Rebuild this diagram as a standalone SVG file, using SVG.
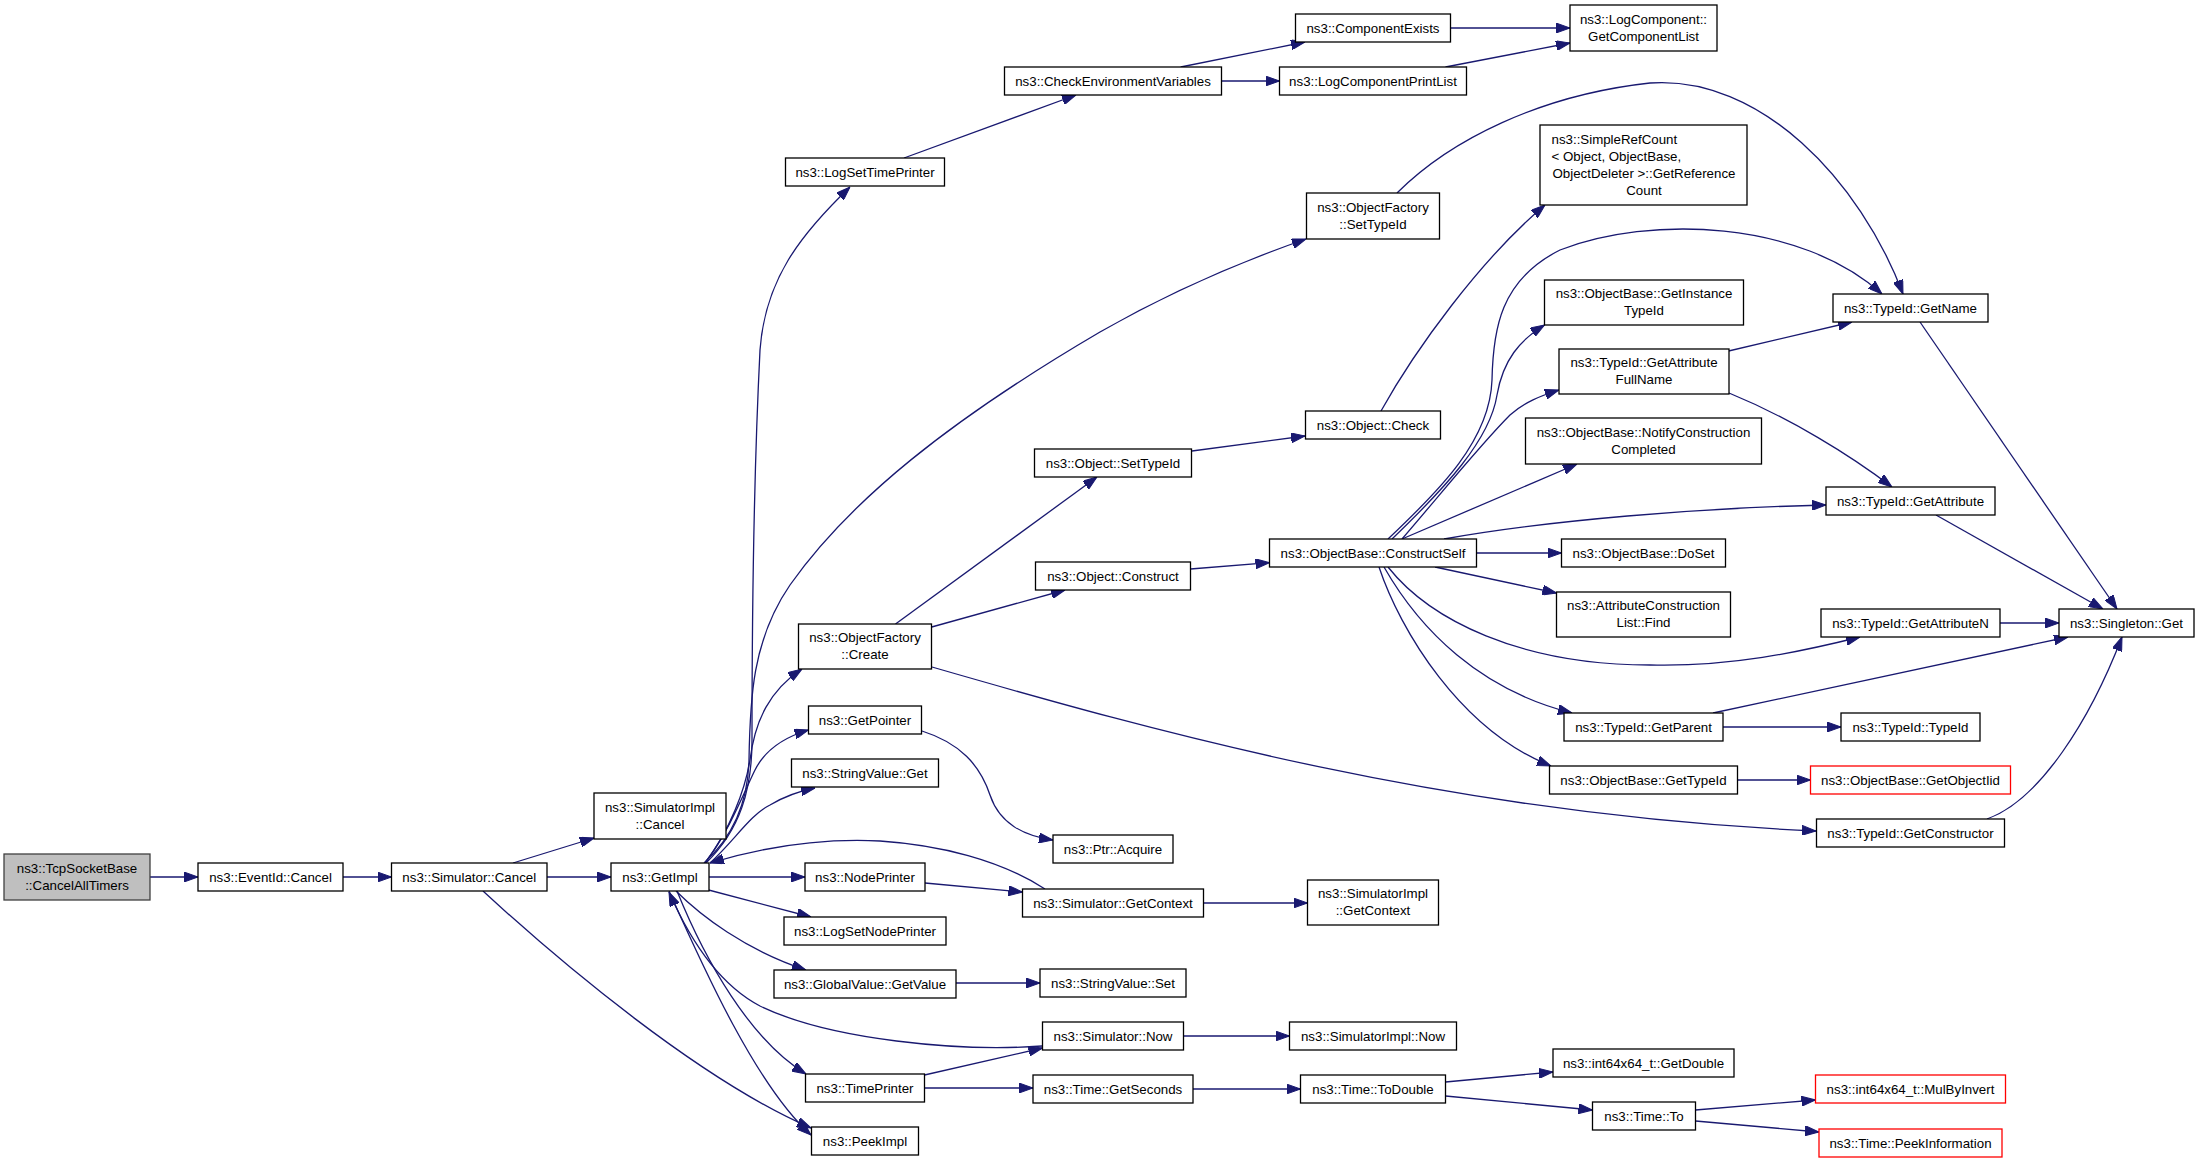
<svg xmlns="http://www.w3.org/2000/svg" width="2200" height="1163" viewBox="0 0 2200 1163">
<style>
.n rect{fill:#ffffff;stroke:#000000;stroke-width:1.3}
.root rect{fill:#bfbfbf;stroke:#404040}
.red rect{stroke:#ff0000}
text{font-family:"Liberation Sans",Arial,Helvetica,sans-serif;font-size:13.3px;fill:#000000;text-anchor:middle}
.e path{fill:none;stroke:#191970;stroke-width:1.3;marker-end:url(#ah)}
</style>
<defs>
<marker id="ah" markerUnits="userSpaceOnUse" viewBox="0 0 14 10" markerWidth="14" markerHeight="10" refX="14" refY="5" orient="auto">
<path d="M0,0 L14,5 L0,10 z" fill="#191970" stroke="#191970" stroke-width="1"/>
</marker>
</defs>
<rect x="0" y="0" width="2200" height="1163" fill="#ffffff"/>
<g class="e" id="edges">
<path d="M150,877 L198,877"/>
<path d="M343,877 L391.5,877"/>
<path d="M513,863 L594,838"/>
<path d="M547,877 L611,877"/>
<path d="M483,891 C560,962 700,1080 811,1128"/>
<path d="M669,891 C700,960 755,1085 811,1135"/>
<path d="M1042,1046 C960,1052 830,1040 760,1006 C720,985 690,940 669,892"/>
<path d="M677,891 C705,960 750,1040 806,1074"/>
<path d="M676,891 C700,915 745,950 806,970"/>
<path d="M708.6,890 L811,917"/>
<path d="M708.6,877 L805,877"/>
<path d="M1045,889 C1000,860 940,845 880,841 C820,838 760,848 710,863"/>
<path d="M925,883 L1022.5,892"/>
<path d="M710,863 C735,840 750,815 770,805 C785,796 800,791 815,788"/>
<path d="M705,863 C730,830 745,790 755,770 C765,750 785,737 808.5,730"/>
<path d="M705,863 C730,830 745,790 750,760 C755,720 770,690 802,669"/>
<path d="M704,863 C735,835 748,800 749,760 C750,700 752,640 790,585 C850,500 950,420 1100,332 C1170,292 1240,262 1306,239"/>
<path d="M706,863 C740,830 752,790 752,740 C752,600 755,450 760,350 C765,280 800,235 850,187"/>
<path d="M895.5,624 L1097,477"/>
<path d="M931.7,627 L1065,590"/>
<path d="M932,667 C1150,730 1450,815 1816,831"/>
<path d="M1192,451 L1305,436"/>
<path d="M1381,411 C1415,350 1480,260 1545,205"/>
<path d="M1190.5,569 L1269.5,562.7"/>
<path d="M904,158 L1076,95"/>
<path d="M1180.7,67 L1305,42"/>
<path d="M1221.4,81 L1279.5,81"/>
<path d="M1450.5,28 L1570,28"/>
<path d="M1445.5,67 L1570,43"/>
<path d="M1397,193 C1450,140 1540,95 1650,83 C1760,75 1860,180 1903,294"/>
<path d="M1388,539 C1440,490 1490,440 1492,380 C1493,330 1500,280 1560,250 C1650,215 1800,220 1882,294"/>
<path d="M1392,539 C1445,488 1490,440 1497,395 C1503,360 1520,340 1544.5,325"/>
<path d="M1402,539 C1440,495 1480,445 1510,415 C1525,402 1540,396 1559,390"/>
<path d="M1402,539 L1577,464"/>
<path d="M1444,539 C1550,520 1700,508 1826,505"/>
<path d="M1476.5,553 L1561.5,553"/>
<path d="M1435,567 L1556.5,593"/>
<path d="M1388,567 C1430,620 1520,665 1650,665 C1730,667 1800,652 1860,637"/>
<path d="M1384,567 C1420,630 1480,690 1572,713"/>
<path d="M1379,567 C1400,630 1460,730 1551,766"/>
<path d="M1728.6,351 L1852,322"/>
<path d="M1729,393 C1790,418 1850,455 1892,487"/>
<path d="M1936,515 L2103,609"/>
<path d="M1920,322 L2117,609"/>
<path d="M2000,623 L2059,623"/>
<path d="M1713,713 L2068,637"/>
<path d="M1723,727 L1841,727"/>
<path d="M1737.5,780 L1810.5,780"/>
<path d="M1987,819 C2040,800 2090,720 2122,637"/>
<path d="M956,983 L1040,983"/>
<path d="M922,731 C960,743 980,765 990,795 C1000,825 1025,836 1053,840"/>
<path d="M1203.5,903 L1307.5,903"/>
<path d="M924.5,1075 L1042.5,1048"/>
<path d="M924.5,1088 L1033,1088"/>
<path d="M1183.5,1036 L1289.5,1036"/>
<path d="M1193,1089 L1300.5,1089"/>
<path d="M1445.5,1082 L1553,1072"/>
<path d="M1445.5,1096 L1592.5,1110"/>
<path d="M1695.5,1110 L1815.5,1100"/>
<path d="M1695.5,1121 L1819,1132"/>
</g>
<g id="n0" class="n root"><rect x="4" y="854" width="146" height="46"/><text x="77" y="872.7">ns3::TcpSocketBase</text><text x="77" y="889.5">::CancelAllTimers</text></g>
<g id="n1" class="n"><rect x="198" y="863" width="145" height="28"/><text x="270.5" y="881.6">ns3::EventId::Cancel</text></g>
<g id="n2" class="n"><rect x="391.5" y="863" width="155.5" height="28"/><text x="469.25" y="881.6">ns3::Simulator::Cancel</text></g>
<g id="n3" class="n"><rect x="594" y="793" width="132" height="46"/><text x="660" y="811.7">ns3::SimulatorImpl</text><text x="660" y="828.5">::Cancel</text></g>
<g id="n4" class="n"><rect x="611" y="863" width="98" height="28"/><text x="660" y="881.6">ns3::GetImpl</text></g>
<g id="n5" class="n"><rect x="805" y="863" width="120" height="28"/><text x="865" y="881.6">ns3::NodePrinter</text></g>
<g id="n6" class="n"><rect x="784" y="917" width="162" height="28"/><text x="865" y="935.6">ns3::LogSetNodePrinter</text></g>
<g id="n7" class="n"><rect x="774" y="970" width="182" height="28"/><text x="865" y="988.6">ns3::GlobalValue::GetValue</text></g>
<g id="n8" class="n"><rect x="805.5" y="1074" width="119" height="28"/><text x="865" y="1092.6">ns3::TimePrinter</text></g>
<g id="n9" class="n"><rect x="811.5" y="1127" width="107" height="28"/><text x="865" y="1145.6">ns3::PeekImpl</text></g>
<g id="n10" class="n"><rect x="791.5" y="759" width="147" height="28"/><text x="865" y="777.6">ns3::StringValue::Get</text></g>
<g id="n11" class="n"><rect x="808.5" y="706" width="113" height="28"/><text x="865" y="724.6">ns3::GetPointer</text></g>
<g id="n12" class="n"><rect x="798.5" y="624" width="133" height="45"/><text x="865" y="642.2">ns3::ObjectFactory</text><text x="865" y="659">::Create</text></g>
<g id="n13" class="n"><rect x="785.5" y="158" width="159" height="28"/><text x="865" y="176.6">ns3::LogSetTimePrinter</text></g>
<g id="n14" class="n"><rect x="1034.5" y="449" width="157" height="28"/><text x="1113" y="467.6">ns3::Object::SetTypeId</text></g>
<g id="n15" class="n"><rect x="1035.5" y="562" width="155" height="28"/><text x="1113" y="580.6">ns3::Object::Construct</text></g>
<g id="n16" class="n"><rect x="1004.5" y="67" width="217" height="28"/><text x="1113" y="85.6">ns3::CheckEnvironmentVariables</text></g>
<g id="n17" class="n"><rect x="1053" y="835" width="120" height="28"/><text x="1113" y="853.6">ns3::Ptr::Acquire</text></g>
<g id="n18" class="n"><rect x="1022.5" y="889" width="181" height="28"/><text x="1113" y="907.6">ns3::Simulator::GetContext</text></g>
<g id="n19" class="n"><rect x="1040" y="969" width="146" height="28"/><text x="1113" y="987.6">ns3::StringValue::Set</text></g>
<g id="n20" class="n"><rect x="1042.5" y="1022" width="141" height="28"/><text x="1113" y="1040.6">ns3::Simulator::Now</text></g>
<g id="n21" class="n"><rect x="1033" y="1075" width="160" height="28"/><text x="1113" y="1093.6">ns3::Time::GetSeconds</text></g>
<g id="n22" class="n"><rect x="1295.5" y="14" width="155" height="28"/><text x="1373" y="32.6">ns3::ComponentExists</text></g>
<g id="n23" class="n"><rect x="1279.5" y="67" width="187" height="28"/><text x="1373" y="85.6">ns3::LogComponentPrintList</text></g>
<g id="n24" class="n"><rect x="1306.5" y="193" width="133" height="46"/><text x="1373" y="211.7">ns3::ObjectFactory</text><text x="1373" y="228.5">::SetTypeId</text></g>
<g id="n25" class="n"><rect x="1305.5" y="411" width="135" height="28"/><text x="1373" y="429.6">ns3::Object::Check</text></g>
<g id="n26" class="n"><rect x="1269.5" y="539" width="207" height="28"/><text x="1373" y="557.6">ns3::ObjectBase::ConstructSelf</text></g>
<g id="n27" class="n"><rect x="1307.5" y="880" width="131" height="45"/><text x="1373" y="898.2">ns3::SimulatorImpl</text><text x="1373" y="915">::GetContext</text></g>
<g id="n28" class="n"><rect x="1289.5" y="1022" width="167" height="28"/><text x="1373" y="1040.6">ns3::SimulatorImpl::Now</text></g>
<g id="n29" class="n"><rect x="1300.5" y="1075" width="145" height="28"/><text x="1373" y="1093.6">ns3::Time::ToDouble</text></g>
<g id="n30" class="n"><rect x="1570" y="5" width="147" height="46"/><text x="1643.5" y="23.7">ns3::LogComponent::</text><text x="1643.5" y="40.5">GetComponentList</text></g>
<g id="n31" class="n"><rect x="1540" y="125" width="207" height="80"/><text x="1551.5" y="143.5" style="text-anchor:start">ns3::SimpleRefCount</text><text x="1551.5" y="160.5" style="text-anchor:start">&lt; Object, ObjectBase,</text><text x="1644" y="177.5">ObjectDeleter &gt;::GetReference</text><text x="1644" y="194.5">Count</text></g>
<g id="n32" class="n"><rect x="1544.5" y="280" width="199" height="45"/><text x="1644" y="298.2">ns3::ObjectBase::GetInstance</text><text x="1644" y="315">TypeId</text></g>
<g id="n33" class="n"><rect x="1559" y="349" width="170" height="45"/><text x="1644" y="367.2">ns3::TypeId::GetAttribute</text><text x="1644" y="384">FullName</text></g>
<g id="n34" class="n"><rect x="1525.5" y="418" width="236" height="46"/><text x="1643.5" y="436.7">ns3::ObjectBase::NotifyConstruction</text><text x="1643.5" y="453.5">Completed</text></g>
<g id="n35" class="n"><rect x="1561.5" y="539" width="164" height="28"/><text x="1643.5" y="557.6">ns3::ObjectBase::DoSet</text></g>
<g id="n36" class="n"><rect x="1556.5" y="592" width="174" height="45"/><text x="1643.5" y="610.2">ns3::AttributeConstruction</text><text x="1643.5" y="627">List::Find</text></g>
<g id="n37" class="n"><rect x="1564" y="713" width="159" height="28"/><text x="1643.5" y="731.6">ns3::TypeId::GetParent</text></g>
<g id="n38" class="n"><rect x="1549.5" y="766" width="188" height="28"/><text x="1643.5" y="784.6">ns3::ObjectBase::GetTypeId</text></g>
<g id="n39" class="n"><rect x="1553" y="1049" width="181" height="28"/><text x="1643.5" y="1067.6">ns3::int64x64_t::GetDouble</text></g>
<g id="n40" class="n"><rect x="1592.5" y="1102" width="103" height="28"/><text x="1644" y="1120.6">ns3::Time::To</text></g>
<g id="n41" class="n"><rect x="1833" y="294" width="155" height="28"/><text x="1910.5" y="312.6">ns3::TypeId::GetName</text></g>
<g id="n42" class="n"><rect x="1826" y="487" width="169" height="28"/><text x="1910.5" y="505.6">ns3::TypeId::GetAttribute</text></g>
<g id="n43" class="n"><rect x="1821" y="609" width="179" height="28"/><text x="1910.5" y="627.6">ns3::TypeId::GetAttributeN</text></g>
<g id="n44" class="n"><rect x="1841" y="713" width="139" height="28"/><text x="1910.5" y="731.6">ns3::TypeId::TypeId</text></g>
<g id="n45" class="n red"><rect x="1810.5" y="766" width="200" height="28"/><text x="1910.5" y="784.6">ns3::ObjectBase::GetObjectIid</text></g>
<g id="n46" class="n"><rect x="1816.5" y="819" width="188" height="28"/><text x="1910.5" y="837.6">ns3::TypeId::GetConstructor</text></g>
<g id="n47" class="n red"><rect x="1815.5" y="1075" width="190" height="28"/><text x="1910.5" y="1093.6">ns3::int64x64_t::MulByInvert</text></g>
<g id="n48" class="n red"><rect x="1819" y="1129" width="183" height="28"/><text x="1910.5" y="1147.6">ns3::Time::PeekInformation</text></g>
<g id="n49" class="n"><rect x="2059" y="609" width="135" height="28"/><text x="2126.5" y="627.6">ns3::Singleton::Get</text></g>
</svg>
